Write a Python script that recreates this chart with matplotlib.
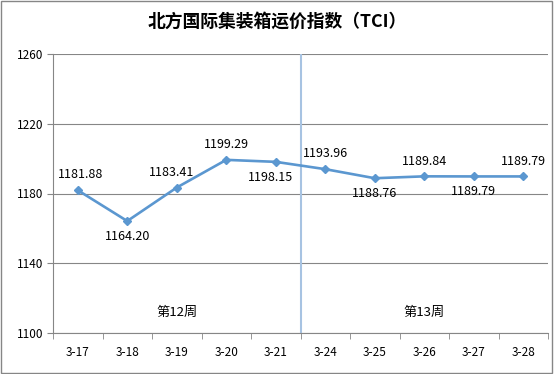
import matplotlib
matplotlib.use('Agg')
from matplotlib import pyplot

pyplot.rcParams['font.family'] = ['Noto Sans CJK SC', 'DejaVu Sans']

# data
dates = ['3-17', '3-18', '3-19', '3-20', '3-21', '3-24', '3-25', '3-26', '3-27', '3-28']
tci = [1181.88, 1164.20, 1183.41, 1199.29, 1198.15, 1193.96, 1188.76, 1189.84, 1189.79, 1189.79]
# label above (1) or below (-1) the point
label_side = [1, -1, 1, 1, -1, 1, -1, 1, -1, 1]
weeks = ['第12周', '第13周']
week_pos = [2, 7]
week_split = 4.5

line_color = '#5B97D0'
grid_color = '#868686'

fig = pyplot.figure(figsize=(5.54, 3.74), dpi=100)
ax = fig.add_axes([53 / 554, 1 - 333 / 374, 495 / 554, 279 / 374])

x = list(range(len(dates)))
ax.plot(x, tci, color=line_color, lw=1.9, marker='D', ms=4,
        markerfacecolor=line_color, markeredgecolor=line_color, zorder=3)

for xi, v, s in zip(x, tci, label_side):
    dx = -4 if xi in (2, 4) else 0
    ax.annotate(f'{v:.2f}', (xi, v), xytext=(dx + (2 if xi == 0 else 0), 11 * s),
                textcoords='offset points', ha='center', va='center', fontsize=9)

ax.axvline(week_split, color='#A7C3E2', lw=1.5, zorder=2)
for w, p in zip(weeks, week_pos):
    ax.text(p, 1112, w, ha='center', va='center', fontsize=9.5)

ax.set_xlim(-0.5, len(dates) - 0.5)
ax.set_ylim(1100, 1260)
ax.set_yticks([1100, 1140, 1180, 1220, 1260])
ax.set_xticks(x)
ax.set_xticklabels(dates)
ax.set_xticks([i - 0.5 for i in range(len(dates) + 1)], minor=True)
ax.tick_params(axis='x', which='major', length=0, labelsize=8.5, pad=9)
ax.tick_params(axis='x', which='minor', length=4, color=grid_color)
ax.tick_params(axis='y', length=4, color=grid_color, labelsize=8.5, pad=3)
ax.grid(axis='y', color=grid_color, lw=0.8)
ax.set_axisbelow(True)
for side in ['top', 'right']:
    ax.spines[side].set_visible(False)
for side in ['left', 'bottom']:
    ax.spines[side].set_color(grid_color)
    ax.spines[side].set_linewidth(0.8)

fig.text(0.5, 1 - 22 / 374, '北方国际集装箱运价指数（TCI）', ha='center', va='center',
         fontsize=12.8, fontweight='bold')

# outer frame
fig.patches.append(matplotlib.patches.Rectangle((0.002, 0.003), 0.995, 0.994,
                                                transform=fig.transFigure, fill=False,
                                                edgecolor='#868686', lw=1))

fig.savefig('out.png', dpi=100)
